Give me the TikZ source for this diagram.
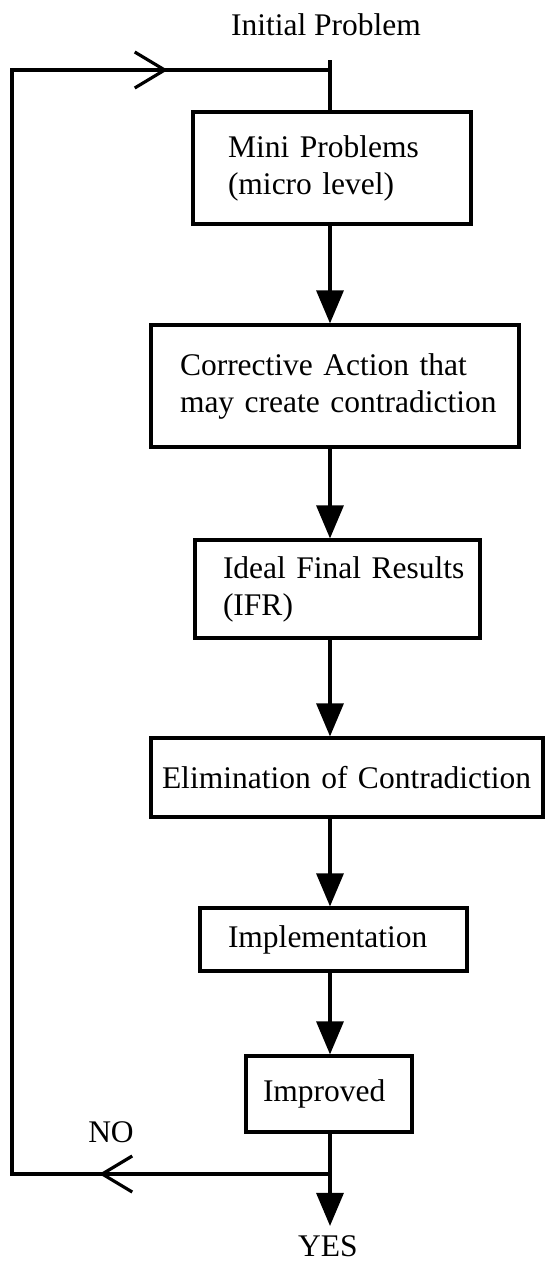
\documentclass[tikz,border=0pt]{standalone}
\usepackage{fontspec}
\setmainfont{Liberation Serif}
\usetikzlibrary{arrows.meta,decorations.markings}
\begin{document}
\begin{tikzpicture}[x=1pt,y=-1pt,
  every node/.style={font=\fontsize{31.5pt}{37pt}\selectfont},
  stage/.style={draw, line width=3.2pt, align=left, inner ysep=0pt},
  link/.style={line width=3.2pt},
  flow/.style={link, -{Triangle[length=33pt,width=27pt]}},
  loop barb/.style={postaction={decorate},
    decoration={markings, mark=at position #1 with
      {\arrow{Straight Barb[length=30pt,width=36pt,line width=3.2pt]}}}},
  caption/.style={inner sep=0pt, anchor=base}
]
\useasboundingbox (0,0) rectangle (544,1264);

% reference points of the main line and the feedback loop
\coordinate (spine) at (330,0);
\coordinate (entry) at (330,60);
\coordinate (merge) at (330,70);
\coordinate (ltop)  at (12,70);
\coordinate (lbot)  at (12,1174);
\coordinate (split) at (330,1174);

% stages
\node[stage, text width=208pt, inner xsep=35pt, minimum height=112pt] (b1) at (332,168)
  {Mini Problems\\(micro level)};
\node[stage, text width=310pt, inner xsep=29pt, minimum height=122pt] (b2) at (335,386)
  {\mbox{Corrective Action that}\\\mbox{may create contradiction}};
\node[stage, text width=229pt, inner xsep=28pt, minimum height=98pt] (b3) at (337.5,589)
  {\mbox{Ideal Final Results}\\(IFR)};
\node[stage, text width=370pt, inner xsep=11pt, minimum height=79pt] (b4) at (347,777.5)
  {Elimination of Contradiction};
\node[stage, text width=211pt, inner xsep=28pt, minimum height=63pt] (b5) at (333.5,939.5)
  {Implementation};
\node[stage, text width=132pt, inner xsep=17pt, minimum height=76pt] (b6) at (329,1094)
  {Improved};

% labels
\node[caption] (init) at (326,35) {Initial Problem};
\node[caption] (no) at (111,1142) {NO};
\node[anchor=base, inner xsep=0pt, inner ysep=9pt] (yes) at (328,1256) {YES};

% main flow
\draw[link] (entry) -- (b1.north -| spine);
\draw[flow] (b1.south -| spine) -- (b2.north -| spine);
\draw[flow] (b2.south -| spine) -- (b3.north -| spine);
\draw[flow] (b3.south -| spine) -- (b4.north -| spine);
\draw[flow] (b4.south -| spine) -- (b5.north -| spine);
\draw[flow] (b5.south -| spine) -- (b6.north -| spine);
\draw[link] (b6.south -| spine) -- (split);
\draw[flow] (split) -- (yes.north -| spine);

% feedback loop
\draw[link, line join=miter] (split) -- (lbot) -- (ltop) -- (merge);
\draw[link, loop barb=0.726] (split) -- (lbot);
\draw[link, loop barb=0.49] (ltop) -- (merge);
\end{tikzpicture}
\end{document}
